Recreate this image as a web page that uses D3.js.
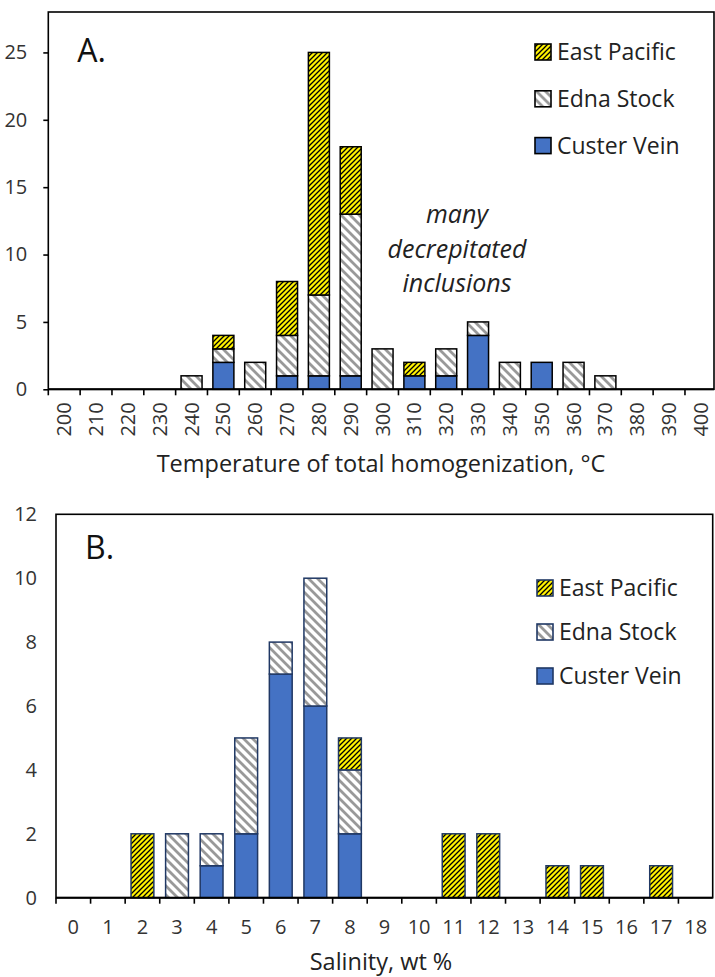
<!DOCTYPE html>
<html>
<head>
<meta charset="utf-8">
<script src="https://cdn.jsdelivr.net/npm/d3@7"></script>
<style>
  body { margin: 0; background: #fff; }
  text { font-family: 'Open Sans', 'Noto Sans', sans-serif; }
</style>
</head>
<body>
<script>
const w = 715, h = 977

// series names (stack order bottom -> top)
const seriesNames = ['Custer Vein', 'Edna Stock', 'East Pacific']

// panel A: temperature of total homogenization
const tempCats = [200, 210, 220, 230, 240, 250, 260, 270, 280, 290, 300, 310, 320, 330, 340, 350, 360, 370, 380, 390, 400]
const tempCuster = [0, 0, 0, 0, 0, 2, 0, 1, 1, 1, 0, 1, 1, 4, 0, 2, 0, 0, 0, 0, 0]
const tempEdna = [0, 0, 0, 0, 1, 1, 2, 3, 6, 12, 3, 0, 2, 1, 2, 0, 2, 1, 0, 0, 0]
const tempPacific = [0, 0, 0, 0, 0, 1, 0, 4, 18, 5, 0, 1, 0, 0, 0, 0, 0, 0, 0, 0, 0]
const tempTicks = [0, 5, 10, 15, 20, 25]

// panel B: salinity
const salCats = [0, 1, 2, 3, 4, 5, 6, 7, 8, 9, 10, 11, 12, 13, 14, 15, 16, 17, 18]
const salCuster = [0, 0, 0, 0, 1, 2, 7, 6, 2, 0, 0, 0, 0, 0, 0, 0, 0, 0, 0]
const salEdna = [0, 0, 0, 2, 1, 3, 1, 4, 2, 0, 0, 0, 0, 0, 0, 0, 0, 0, 0]
const salPacific = [0, 0, 2, 0, 0, 0, 0, 0, 1, 0, 0, 2, 2, 0, 1, 1, 0, 1, 0]
const salTicks = [0, 2, 4, 6, 8, 10, 12]

const svg = d3.select('body')
    .append('svg')
    .attr('width', w)
    .attr('height', h)

// hatch patterns
const defs = svg.append('defs')
const pac = defs.append('pattern')
    .attr('id', 'pat-pacific')
    .attr('patternUnits', 'userSpaceOnUse')
    .attr('width', 5).attr('height', 5)
pac.append('rect').attr('width', 5).attr('height', 5).attr('fill', '#FFF200')
pac.append('path')
    .attr('d', 'M-1,1 L1,-1 M0,5 L5,0 M4,6 L6,4')
    .attr('stroke', '#000').attr('stroke-width', 1.3)

const edna = defs.append('pattern')
    .attr('id', 'pat-edna')
    .attr('patternUnits', 'userSpaceOnUse')
    .attr('width', 9).attr('height', 9)
edna.append('rect').attr('width', 9).attr('height', 9).attr('fill', '#fff')
edna.append('path')
    .attr('d', 'M-2,-2 L11,11 M-2,7 L2,11 M7,-2 L11,2')
    .attr('stroke', '#999').attr('stroke-width', 2.8)

const fills = {
    'Custer Vein': '#4472C4',
    'Edna Stock': 'url(#pat-edna)',
    'East Pacific': 'url(#pat-pacific)'
}

function drawPanel(cfg) {
    const rows = cfg.cats.map((c, i) => ({
        cat: c,
        'Custer Vein': cfg.custer[i],
        'Edna Stock': cfg.edna[i],
        'East Pacific': cfg.pacific[i]
    }))
    const stacked = d3.stack().keys(seriesNames)(rows)

    const x = d3.scaleBand()
        .domain(cfg.cats)
        .range([cfg.left, cfg.axisRight])
        .paddingInner(0.34)
        .paddingOuter(0.17)
    const y = d3.scaleLinear()
        .domain([0, cfg.yMax])
        .range([cfg.bottom, cfg.top])

    const g = svg.append('g')

    // frame
    g.append('rect')
        .attr('x', cfg.left).attr('y', cfg.top)
        .attr('width', cfg.right - cfg.left)
        .attr('height', cfg.bottom - cfg.top)
        .attr('fill', 'none')
        .attr('stroke', '#000')
        .attr('stroke-width', 1.6)

    // bars
    g.selectAll('.layer')
        .data(stacked)
        .enter()
        .append('g')
        .attr('fill', d => fills[d.key])
        .selectAll('rect')
        .data(d => d.filter(s => s[1] - s[0] > 0))
        .enter()
        .append('rect')
        .attr('x', d => x(d.data.cat))
        .attr('y', d => y(d[1]))
        .attr('width', x.bandwidth())
        .attr('height', d => y(d[0]) - y(d[1]))
        .attr('stroke', cfg.barStroke)
        .attr('stroke-width', 1.5)

    // y axis
    const yAxis = g.append('g')
        .attr('transform', `translate(${cfg.left},0)`)
        .call(d3.axisLeft(y).tickValues(cfg.yTicks).tickSize(cfg.yTickSize).tickPadding(cfg.yPad))
    yAxis.select('.domain').remove()
    yAxis.selectAll('line').attr('stroke', '#000').attr('stroke-width', 1.6)
    yAxis.selectAll('text')
        .style('font-size', '20px')
        .attr('fill', '#333')

    // x axis: ticks at band boundaries
    const edges = cfg.cats.map(c => x(c) - x.step() * x.paddingInner() / 2)
    g.selectAll('.xtick')
        .data(edges.concat([cfg.axisRight]).filter(v => v <= cfg.right))
        .enter()
        .append('line')
        .attr('x1', d => d).attr('x2', d => d)
        .attr('y1', cfg.bottom).attr('y2', cfg.bottom + 6)
        .attr('stroke', '#000').attr('stroke-width', 1.6)
    g.append('line')
        .attr('x1', cfg.left).attr('x2', cfg.right)
        .attr('y1', cfg.bottom).attr('y2', cfg.bottom)
        .attr('stroke', '#000').attr('stroke-width', 2)

    const xl = g.selectAll('.xlab')
        .data(cfg.cats)
        .enter()
        .append('text')
        .style('font-size', '20px')
        .attr('fill', '#333')
        .text(d => d)
    if (cfg.rotate) {
        xl.attr('text-anchor', 'end')
            .attr('dy', '0.35em')
            .attr('transform', d => `translate(${x(d) + x.bandwidth() / 2},${cfg.bottom + 13}) rotate(-90)`)
    } else {
        xl.attr('text-anchor', 'middle')
            .attr('x', d => x(d) + x.bandwidth() / 2)
            .attr('y', cfg.bottom + 36)
    }

    // axis title
    g.append('text')
        .attr('x', 381)
        .attr('y', cfg.titleY)
        .attr('text-anchor', 'middle')
        .style('font-size', '23.5px')
        .attr('fill', '#222')
        .text(cfg.title)

    // panel letter
    g.append('text')
        .attr('x', cfg.left + 29)
        .attr('y', cfg.letterY)
        .style('font-size', '32px')
        .attr('fill', '#111')
        .text(cfg.letter)

    // legend
    const legendKeys = seriesNames.slice().reverse()
    const lg = g.selectAll('.legend')
        .data(legendKeys)
        .enter()
        .append('g')
        .attr('transform', (d, i) => `translate(${cfg.legendX},${cfg.legendY + i * cfg.legendGap})`)
    lg.append('rect')
        .attr('x', 0).attr('y', -8)
        .attr('width', 16).attr('height', 16)
        .attr('fill', d => fills[d])
        .attr('stroke', cfg.barStroke)
        .attr('stroke-width', 1.6)
    lg.append('text')
        .attr('x', 22)
        .attr('dy', '0.35em')
        .style('font-size', '23px')
        .attr('fill', '#222')
        .text(d => d)

    return { x, y, g }
}

const a = drawPanel({
    cats: tempCats, custer: tempCuster, edna: tempEdna, pacific: tempPacific,
    left: 48.3, right: 714, axisRight: 716.8, top: 12, bottom: 389.3,
    yMax: 28, yTicks: tempTicks, yTickSize: 5, yPad: 16,
    barStroke: '#000', rotate: true,
    title: 'Temperature of total homogenization, °C', titleY: 472,
    letter: 'A.', letterY: 62,
    legendX: 535, legendY: 52, legendGap: 46.8
})

// note for panel A
const note = a.g.append('text')
    .attr('text-anchor', 'middle')
    .style('font-size', '25px')
    .style('font-style', 'italic')
    .attr('fill', '#222')
note.selectAll('tspan')
    .data(['many', 'decrepitated', 'inclusions'])
    .enter()
    .append('tspan')
    .attr('x', 457)
    .attr('y', (d, i) => 223 + i * 34.5)
    .text(d => d)

drawPanel({
    cats: salCats, custer: salCuster, edna: salEdna, pacific: salPacific,
    left: 56, right: 712.7, axisRight: 713, top: 514.3, bottom: 897.7,
    yMax: 12, yTicks: salTicks, yTickSize: 0, yPad: 19,
    barStroke: '#203864', rotate: false,
    title: 'Salinity, wt %', titleY: 970,
    letter: 'B.', letterY: 559,
    legendX: 537, legendY: 588, legendGap: 44
})
</script>
</body>
</html>
